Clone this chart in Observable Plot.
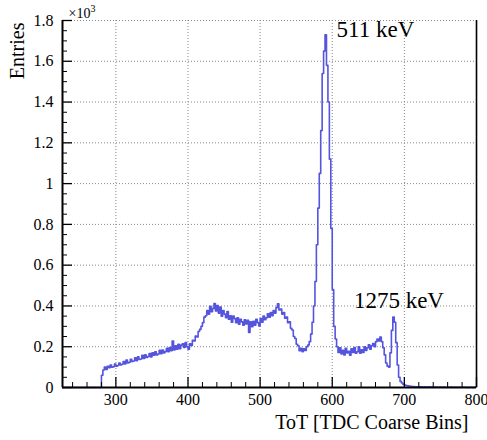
<!DOCTYPE html>
<html>
<head>
<meta charset="utf-8">
<script src="https://cdn.jsdelivr.net/npm/d3@7"></script>
<script src="https://cdn.jsdelivr.net/npm/@observablehq/plot@0.6"></script>
<style>
  html, body { margin: 0; padding: 0; background: #fff; }
  #chart { width: 487px; height: 440px; }
  #chart svg, #chart svg text { font-family: "Liberation Serif", "DejaVu Serif", serif !important; }
</style>
</head>
<body>
<div id="chart"></div>
<script>
// ---- data (entries per 2-unit ToT bin) ----
const binStart = 226;
const binWidth = 2;
const counts = [
  // 226-278
  0,0,0,0,0,0,0,0,0,0, 0,0,0,0,0,0,0,0,0,0, 0,0,0,0,0,0,0,
  // 280-298
  60, 86, 100, 88, 104, 97, 110, 99, 102, 115,
  // 300-318
  104, 108, 120, 110, 114, 127, 116, 135, 120, 124,
  // 320-338
  138, 128, 130, 146, 132, 150, 138, 140, 158, 142,
  // 340-358
  160, 147, 152, 166, 150, 170, 158, 175, 160, 164,
  // 360-378
  182, 166, 184, 170, 176, 192, 175, 196, 180, 228,
  // 380-398
  184, 205, 188, 212, 190, 208, 214, 196, 220, 200,
  // 400-418
  188, 214, 206, 232, 228, 252, 248, 275, 285, 300,
  // 420-438
  318, 345, 352, 378, 360, 398, 372, 388, 412, 375,
  // 440-458
  402, 365, 395, 350, 378, 360, 342, 372, 335, 352,
  // 460-478
  320, 350, 338, 318, 342, 310, 335, 322, 305, 332,
  // 480-498
  312, 330, 270, 322, 298, 325, 305, 335, 318, 302,
  // 500-518
  338, 320, 350, 332, 342, 362, 345, 368, 352, 378,
  // 520-538
  365, 392, 410, 380, 385, 360, 368, 340, 345, 318,
  // 540-558
  322, 290, 282, 250, 240, 212, 205, 180, 192, 176,
  // 560-578
  190, 182, 200, 208, 225, 262, 320, 400, 520, 700,
  // 580-598
  880, 1050, 1260, 1540, 1650, 1730, 1580, 1400, 1120, 780,
  // 600-618
  480, 300, 238, 200, 172, 195, 165, 182, 160, 192,
  // 620-638
  170, 178, 158, 190, 172, 196, 168, 175, 200, 168,
  // 640-658
  185, 172, 200, 182, 195, 210, 188, 205, 215, 200,
  // 660-678
  225, 238, 228, 248, 225, 195, 160, 120, 105, 100,
  // 680-698
  170, 280, 345, 320, 220, 110, 50, 30, 22, 15,
  // 700-718
  12, 10, 8, 7, 6, 5, 5, 4, 4, 3,
  // 720-798
  3, 3, 3, 2, 3, 2, 2, 3, 2, 2,
  2, 2, 2, 1, 2, 2, 1, 2, 1, 1,
  1, 1, 2, 1, 1, 1, 1, 1, 1, 1,
  1, 1, 1, 1, 0, 1, 1, 0, 1, 1
];
const xDomain = [226, 800];
const yDomain = [0, 1800];
const xMajorTicks = [300, 400, 500, 600, 700, 800];
const xMinorTicks = [240, 260, 280, 320, 340, 360, 380, 420, 440, 460, 480, 520, 540, 560, 580, 620, 640, 660, 680, 720, 740, 760, 780];
const yMajorTicks = [0, 200, 400, 600, 800, 1000, 1200, 1400, 1600, 1800];
const yMinorTicks = d3.range(50, 1800, 50).filter(v => v % 200 !== 0);
const peakLabels = [
  {text: "511 keV", x: 606, y: 1717},
  {text: "1275 keV", x: 630, y: 389}
];

// ---- layout ----
const W = 487, H = 440;
const mL = 62, mR = 11, mT = 20, mB = 53;
const innerW = W - mL - mR, innerH = H - mT - mB;

const hist = counts.map((c, i) => ({x: binStart + i * binWidth, y: c}));
hist.push({x: binStart + counts.length * binWidth, y: counts[counts.length - 1]});

const serif = "Liberation Serif";
const gridStyle = {stroke: "#888", strokeOpacity: 1, strokeWidth: 1, strokeDasharray: "1,2"};

const chart = Plot.plot({
  width: W, height: H,
  marginLeft: mL, marginRight: mR, marginTop: mT, marginBottom: mB,
  x: {domain: xDomain},
  y: {domain: yDomain},
  style: {fontFamily: serif, background: "#fff", color: "#000", overflow: "visible"},
  marks: [
    Plot.gridX(xMajorTicks, gridStyle),
    Plot.gridY(yMajorTicks.filter(v => v > 0), gridStyle),
    Plot.line(hist, {x: "x", y: "y", curve: "step-after", stroke: "#5454de", strokeWidth: 1.6}),
    // inward ticks
    Plot.tickX(xMajorTicks, {x: d => d, insetTop: innerH - 10, stroke: "#000", strokeWidth: 1.3}),
    Plot.tickX(xMinorTicks, {x: d => d, insetTop: innerH - 5, stroke: "#000", strokeWidth: 1}),
    Plot.tickY(yMajorTicks, {y: d => d, insetRight: innerW - 10, stroke: "#000", strokeWidth: 1.3}),
    Plot.tickY(yMinorTicks, {y: d => d, insetRight: innerW - 5, stroke: "#000", strokeWidth: 1}),
    // frame
    Plot.ruleX([xDomain[0]], {stroke: "#000", strokeWidth: 2}),
    Plot.ruleX([xDomain[1]], {stroke: "#000", strokeWidth: 1.6}),
    Plot.ruleY([0], {stroke: "#000", strokeWidth: 2}),
    // axes
    Plot.axisX(xMajorTicks, {tickSize: 0, tickPadding: 6, fontSize: 16, fontFamily: serif, label: null}),
    Plot.axisY(yMajorTicks, {tickSize: 0, tickPadding: 9, fontSize: 16, fontFamily: serif, label: null, tickFormat: d => String(d / 1000)}),
    // titles
    Plot.text(["ToT [TDC Coarse Bins]"], {frameAnchor: "bottom-right", textAnchor: "end", lineAnchor: "bottom", dx: -8, dy: 41, fontSize: 20, fontFamily: serif}),
    Plot.text(["Entries"], {frameAnchor: "top-left", rotate: -90, textAnchor: "end", lineAnchor: "bottom", dx: -39, dy: 2, fontSize: 20, fontFamily: serif}),
    Plot.text(["×10"], {frameAnchor: "top-left", textAnchor: "start", lineAnchor: "bottom", dx: 6, dy: -3, fontSize: 14, fontFamily: serif}),
    Plot.text(["3"], {frameAnchor: "top-left", textAnchor: "start", lineAnchor: "bottom", dx: 28, dy: -9, fontSize: 10, fontFamily: serif}),
    Plot.text(peakLabels, {x: "x", y: "y", text: "text", textAnchor: "start", lineAnchor: "bottom", fontSize: 23, fontFamily: serif})
  ]
});
document.getElementById("chart").appendChild(chart);
</script>
</body>
</html>
